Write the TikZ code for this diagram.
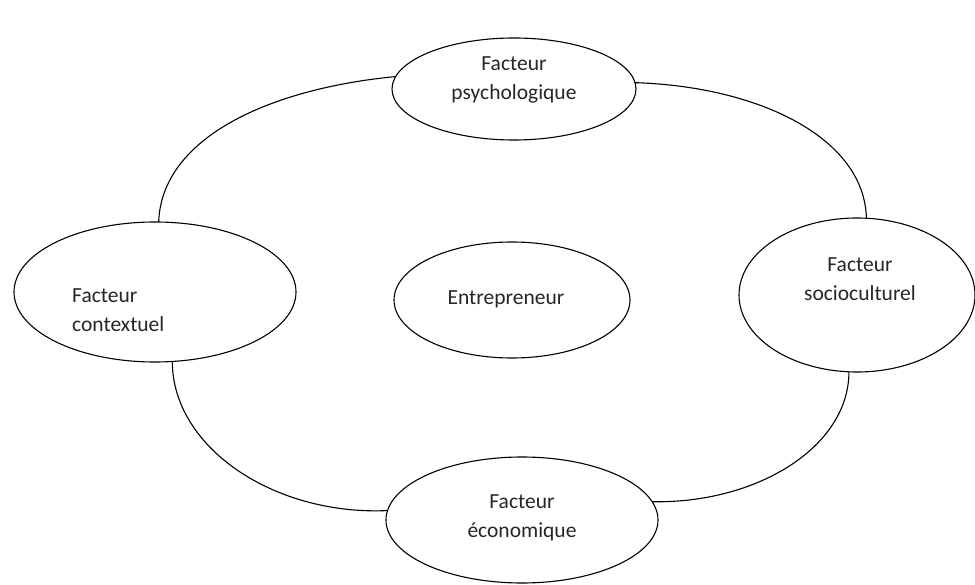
\documentclass[tikz,border=0pt]{standalone}
\usepackage{fontspec}
\setmainfont{Carlito}
\usetikzlibrary{shapes.geometric}
\begin{document}
\begin{tikzpicture}[x=1pt,y=-1pt,
  oval/.style={draw, ellipse, line width=1.1pt, inner sep=0pt, outer sep=0pt},
  lbl/.style={font=\fontsize{21.5}{29}\selectfont, text=black!85, inner sep=0pt},
  link/.style={line width=1.1pt}]
\useasboundingbox (0,0) rectangle (975,585);
% ellipses
\node[oval, minimum width=244pt, minimum height=102pt] (psy) at (514,89) {};
\node[oval, minimum width=282pt, minimum height=140pt] (ctx) at (155,292) {};
\node[oval, minimum width=236pt, minimum height=154pt] (soc) at (857,295) {};
\node[oval, minimum width=272pt, minimum height=126pt] (eco) at (522,520) {};
\node[oval, minimum width=236pt, minimum height=116pt] (ent) at (512,300) {};
% texts
\node[lbl, align=center] (tpsy) at (514,80) {Facteur\\psychologique};
\node[lbl, align=left, anchor=west] (tctx) at (72,310) {Facteur\\contextuel};
\node[lbl, align=center] (tsoc) at (860,279) {Facteur\\socioculturel};
\node[lbl, align=center] (teco) at (522,518) {Facteur\\économique};
\node[lbl] (tent) at (506,299) {Entrepreneur};
% connectors
\draw[link] (psy.174) .. controls +(-125,12) and +(3,-85) .. (ctx.87);
\draw[link] (psy.3) .. controls +(125,4) and +(-2,-80) .. (soc.83);
\draw[link] (ctx.284) .. controls +(0,85) and +(-115,5) .. (eco.176);
\draw[link] (soc.264) .. controls +(0,75) and +(105,2) .. (eco.8);
\end{tikzpicture}
\end{document}
